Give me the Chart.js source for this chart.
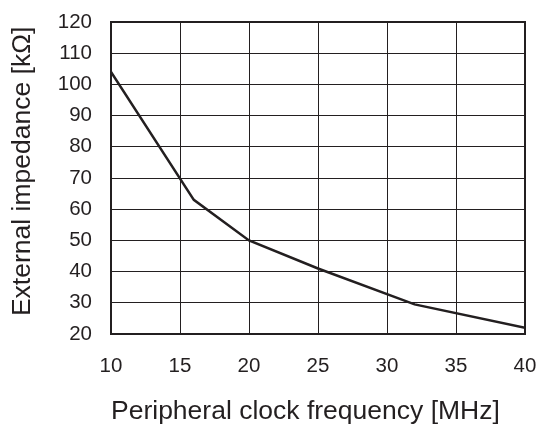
<!DOCTYPE html>
<html>
<head>
<meta charset="utf-8">
<script src="https://cdn.jsdelivr.net/npm/chart.js@4"></script>
<style>
  html, body { margin: 0; padding: 0; background: #fff; }
  #chart { display: block; }
</style>
</head>
<body>
<canvas id="chart" width="539" height="428"></canvas>
<script>
const freqMHz = [10, 16, 20, 25, 32, 40];
const impedanceKOhm = [104, 63, 50, 41, 29.5, 22];
const xTicks = [10, 15, 20, 25, 30, 35, 40];
const yTicks = [20, 30, 40, 50, 60, 70, 80, 90, 100, 110, 120];

const ink = "#231f20";
const fontFamily = "Liberation Sans, Arial, sans-serif";

// frame around the plot area
const framePlugin = {
  id: "frame",
  beforeDatasetsDraw(chart) {
    const { ctx, chartArea: a } = chart;
    ctx.save();
    ctx.strokeStyle = ink;
    ctx.lineWidth = 2;
    ctx.strokeRect(a.left, a.top, a.right - a.left, a.bottom - a.top);
    ctx.restore();
  }
};

new Chart(document.getElementById("chart").getContext("2d"), {
  type: "line",
  data: {
    datasets: [{
      data: freqMHz.map((f, i) => ({ x: f, y: impedanceKOhm[i] })),
      borderColor: ink,
      borderWidth: 2.5,
      pointRadius: 0,
      tension: 0,
      fill: false
    }]
  },
  options: {
    responsive: false,
    animation: false,
    layout: { padding: { left: 0, top: 22, right: 14, bottom: 0 } },
    plugins: { legend: { display: false }, tooltip: { enabled: false } },
    scales: {
      x: {
        type: "linear",
        min: 10,
        max: 40,
        afterFit(scale) {
          scale.height = 94;
          scale.paddingLeft = 0;
          scale.paddingRight = 0;
        },
        afterBuildTicks(scale) { scale.ticks = xTicks.map(v => ({ value: v })); },
        grid: { color: ink, lineWidth: 1, drawTicks: false },
        border: { display: false },
        ticks: { padding: 20, color: ink, font: { family: fontFamily, size: 20.5 } },
        title: {
          display: true,
          text: "Peripheral clock frequency [MHz]",
          align: "start",
          color: ink,
          padding: { top: 0, bottom: 0 },
          font: { family: fontFamily, size: 26.5 }
        }
      },
      y: {
        min: 20,
        max: 120,
        afterFit(scale) {
          scale.width = 111;
          scale.paddingTop = 0;
          scale.paddingBottom = 0;
        },
        afterBuildTicks(scale) { scale.ticks = yTicks.map(v => ({ value: v })); },
        grid: { color: ink, lineWidth: 1, drawTicks: false },
        border: { display: false },
        ticks: { padding: 19, color: ink, font: { family: fontFamily, size: 20.5 } },
        title: {
          display: true,
          text: "\u2002External impedance [kΩ]",
          color: ink,
          padding: { top: 7, bottom: 0 },
          font: { family: fontFamily, size: 26.5 }
        }
      }
    }
  },
  plugins: [framePlugin]
});
</script>
</body>
</html>
